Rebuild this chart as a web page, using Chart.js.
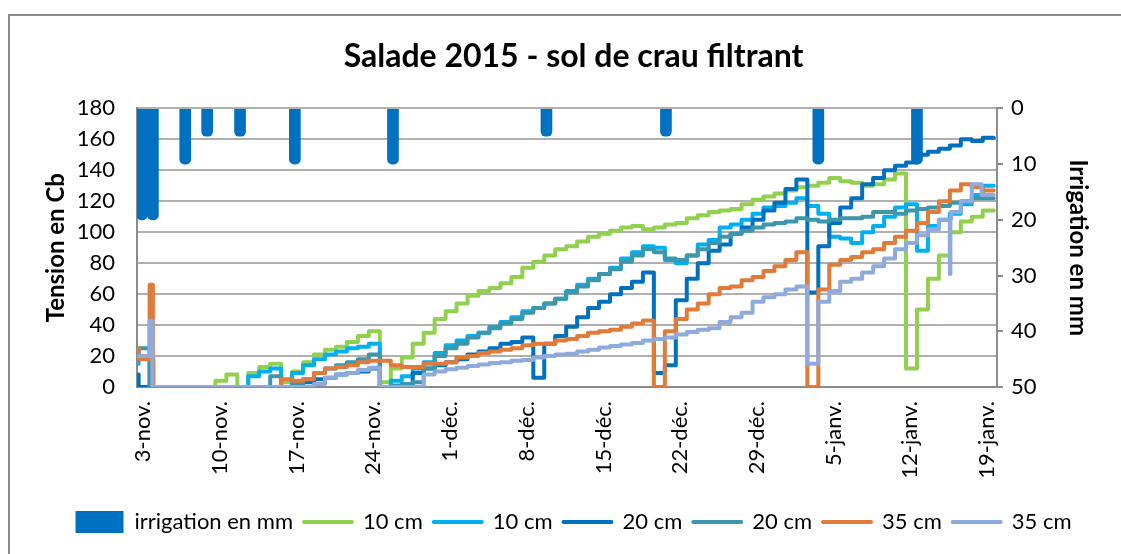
<!DOCTYPE html>
<html lang="fr">
<head>
<meta charset="utf-8">
<title>Salade 2015 - sol de crau filtrant</title>
<script src="https://cdn.jsdelivr.net/npm/chart.js@4.4.1/dist/chart.umd.min.js"></script>
<style>
  html, body { margin: 0; padding: 0; background: #fff; overflow: hidden; }
  #cadre { position: absolute; left: 8px; top: 14px; width: 1140px; height: 560px; border: 2px solid #8a8a8a; }
  #graphe { position: absolute; left: 0; top: 0; }
</style>
</head>
<body>
<div id="cadre"></div>
<canvas id="graphe" width="1121" height="554"></canvas>
<script>
// relevés journaliers, jour 0 = 3 novembre 2015
const jours = Array.from({ length: 79 }, (_, k) => k - 0.4);

const ticksJours = [0, 7, 14, 21, 28, 35, 42, 49, 56, 63, 70, 77];
const etiquettes = ['3-nov.', '10-nov.', '17-nov.', '24-nov.', '1-déc.', '8-déc.',
  '15-déc.', '22-déc.', '29-déc.', '5-janv.', '12-janv.', '19-janv.'];

// irrigations (mm)
const irrigJours = [-0.1, 0.9, 3.85, 5.85, 8.85, 13.85, 22.8, 36.8, 47.7, 61.6, 70.6];
const irrigMm = [20, 20, 10, 5, 5, 10, 10, 5, 5, 10, 10];

// tensions en cb
const vert10 = [
  0, 0, 0, 0, 0, 0, 0, 0, 4, 8,
  0, 9, 13, 15, 3, 10, 16, 21, 24, 26,
  29, 33, 36, 3, 12, 19, 28, 35, 44, 49,
  54, 59, 62, 64, 67, 71, 77, 81, 85, 89,
  91, 94, 97, 99, 101, 103, 104, 102, 103, 105,
  106, 109, 111, 113, 114, 115, 118, 121, 123, 125,
  127, 129, 130, 132, 135, 133, 132, 130, 131, 134,
  138, 12, 50, 70, 85, 100, 107, 110, 114];
const bleuClair10 = [
  15, 20, 0, 0, 0, 0, 0, 0, 0, 0,
  0, 7, 10, 12, 0, 9, 14, 18, 21, 23,
  25, 26, 28, 0, 4, 7, 12, 16, 22, 27,
  30, 33, 35, 39, 42, 45, 49, 51, 54, 57,
  62, 66, 70, 73, 77, 83, 87, 91, 90, 82,
  80, 85, 92, 95, 103, 105, 108, 112, 116, 117,
  119, 122, 117, 112, 97, 96, 93, 100, 104, 110,
  116, 118, 88, 104, 108, 112, 118, 124, 130];
const bleu20 = [
  8, 0, 0, 0, 0, 0, 0, 0, 0, 0,
  0, 0, 0, 0, 0, 0, 3, 5, 6, 8,
  9, 10, 12, 0, 0, 1, 9, 12, 14, 16,
  18, 21, 23, 25, 28, 29, 32, 20, 28, 33,
  39, 45, 51, 55, 60, 64, 68, 74, 11, 14,
  56, 70, 80, 88, 92, 99, 103, 108, 114, 119,
  128, 134, 63, 91, 106, 116, 122, 131, 135, 140,
  143, 145, 150, 152, 154, 156, 160, 159, 161];
const bleuVert20 = [
  18, 25, 0, 0, 0, 0, 0, 0, 0, 0,
  0, 0, 0, 7, 0, 2, 5, 9, 12, 14,
  16, 18, 21, 0, 1, 2, 3, 12, 20, 25,
  28, 32, 35, 38, 41, 44, 48, 51, 54, 57,
  61, 65, 69, 73, 76, 81, 85, 89, 87, 83,
  82, 85, 89, 93, 97, 99, 101, 103, 105, 106,
  107, 109, 108, 107, 108, 109, 109, 110, 113, 113,
  112, 114, 115, 116, 117, 119, 120, 122, 122];
const orange35 = [
  25, 18, 0, 0, 0, 0, 0, 0, 0, 0,
  0, 0, 0, 0, 5, 4, 5, 9, 12, 13,
  14, 16, 17, 17, 14, 13, 13, 15, 15, 16,
  19, 20, 22, 23, 24, 25, 27, 28, 28, 30,
  31, 33, 35, 36, 37, 39, 41, 43, 12, 36,
  44, 50, 54, 60, 64, 65, 69, 71, 75, 78,
  82, 87, 22, 63, 79, 82, 84, 87, 89, 93,
  97, 101, 106, 113, 120, 127, 131, 129, 127];
const gris35 = [
  20, 20, 0, 0, 0, 0, 0, 0, 0, 0,
  0, 0, 0, 0, 0, 0, 0, 2, 6, 8,
  9, 11, 12.5, 0, 0, 0, 0, 8, 10, 11.5,
  12.5, 13.5, 14.5, 15.5, 16, 17, 17.5, 19, 20, 21,
  21.5, 23, 24, 25.5, 26.5, 27.5, 28.5, 30, 31, 32,
  34, 35.5, 37, 38, 42, 45, 48, 55, 58, 60,
  63, 65, 24, 55, 62, 68, 70, 74, 78, 83,
  89, 93, 98, 102, 108, 113, 120, 124, 124];

// relevés ponctuels (pics et chutes dans la journée) [jour, cb]
const pics10 = [];
const picsBleu20 = [[36.6, 6], [47.6, 9], [61.6, 61]];
const picsOrange35 = [[0.9, 66], [0.95, 18], [47.6, 0], [61.6, 0]];
const picsGris35 = [[0.85, 43], [0.9, 0], [61.6, 15], [73.65, 73], [73.7, 108], [76.5, 131], [76.55, 124]];

function serie(valeurs, pics) {
  const pts = pics.map(([x, y]) => ({ x, y }));
  valeurs.forEach((v, k) => pts.push({ x: jours[k], y: v }));
  return pts.sort((a, b) => a.x - b.x);
}

function ligne(label, valeurs, pics, couleur, ordre) {
  return {
    type: 'line',
    label: label,
    data: serie(valeurs, pics),
    borderColor: couleur,
    backgroundColor: couleur,
    borderWidth: 4,
    borderJoinStyle: 'round',
    borderCapStyle: 'round',
    stepped: 'after',
    pointRadius: 0,
    fill: false,
    yAxisID: 'y',
    order: ordre
  };
}

const police = 'Lato, "Open Sans", sans-serif';
Chart.defaults.font.family = police;
Chart.defaults.color = '#000';

new Chart(document.getElementById('graphe'), {
  type: 'line',
  data: {
    datasets: [
      {
        type: 'bar',
        label: 'irrigation en mm',
        data: irrigJours.map((x, i) => ({ x: x, y: irrigMm[i] })),
        backgroundColor: '#0070C0',
        barThickness: 11,
        borderRadius: 5,
        borderSkipped: 'start',
        yAxisID: 'y2',
        order: 10
      },
      ligne('10 cm', vert10, pics10, '#92D050', 6),
      ligne('10 cm', bleuClair10, [], '#00B0F0', 5),
      ligne('20 cm', bleu20, picsBleu20, '#0070C0', 4),
      ligne('20 cm', bleuVert20, [], '#3C96AC', 3),
      ligne('35 cm', orange35, picsOrange35, '#E07B39', 2),
      ligne('35 cm', gris35, picsGris35, '#8FAADC', 1)
    ]
  },
  options: {
    responsive: false,
    animation: false,
    events: [],
    layout: { padding: { left: 26, right: 0, top: 0, bottom: 11 } },
    plugins: {
      title: {
        display: true,
        text: 'Salade 2015 - sol de crau filtrant',
        font: { size: 32, weight: 'bold' },
        color: '#000',
        padding: { top: 37, bottom: 33 }
      },
      legend: {
        position: 'bottom',
        labels: {
          usePointStyle: true,
          pointStyleWidth: 48,
          boxWidth: 48,
          boxHeight: 22,
          padding: 11,
          font: { size: 22 },
          color: '#000',
          generateLabels: chart => chart.data.datasets.map((ds, i) => ({
            text: ds.label,
            datasetIndex: i,
            fillStyle: ds.type === 'bar' ? ds.backgroundColor : ds.borderColor,
            strokeStyle: ds.type === 'bar' ? ds.backgroundColor : ds.borderColor,
            lineWidth: ds.type === 'bar' ? 0 : 4,
            lineCap: 'round',
            pointStyle: ds.type === 'bar' ? 'rect' : 'line',
            fontColor: '#000',
            hidden: false
          }))
        }
      },
      tooltip: { enabled: false }
    },
    scales: {
      x: {
        type: 'linear',
        offset: false,
        min: -0.55,
        max: 77.9,
        grid: { display: false, drawTicks: false, offset: false },
        border: { color: '#8c8c8c', width: 2 },
        afterBuildTicks: s => { s.ticks = ticksJours.map(v => ({ value: v })); },
        ticks: {
          autoSkip: false,
          maxRotation: 90,
          minRotation: 90,
          padding: 14,
          font: { size: 22 },
          callback: v => etiquettes[ticksJours.indexOf(v)]
        },
        afterFit: s => { s.height = 113; }
      },
      y: {
        position: 'left',
        min: 0,
        max: 180,
        ticks: { stepSize: 20, padding: 22, font: { size: 22 } },
        grid: { color: '#b0b0b0', lineWidth: 2, drawTicks: false },
        border: { color: '#8c8c8c', width: 2 },
        title: { display: true, text: 'Tension en Cb', font: { size: 24, weight: 'bold' }, padding: { top: 16 } },
        afterFit: s => { s.width = 111; }
      },
      y2: {
        position: 'right',
        reverse: true,
        min: 0,
        max: 50,
        ticks: { stepSize: 10, padding: 8, font: { size: 22 } },
        grid: { drawOnChartArea: false, color: '#8c8c8c', lineWidth: 2, tickLength: 6 },
        border: { color: '#8c8c8c', width: 2 },
        title: { display: true, text: 'Irrigation en mm', font: { size: 24, weight: 'bold' }, padding: { top: 29 } },
        afterFit: s => { s.width = 124; }
      }
    }
  }
});
</script>
</body>
</html>
